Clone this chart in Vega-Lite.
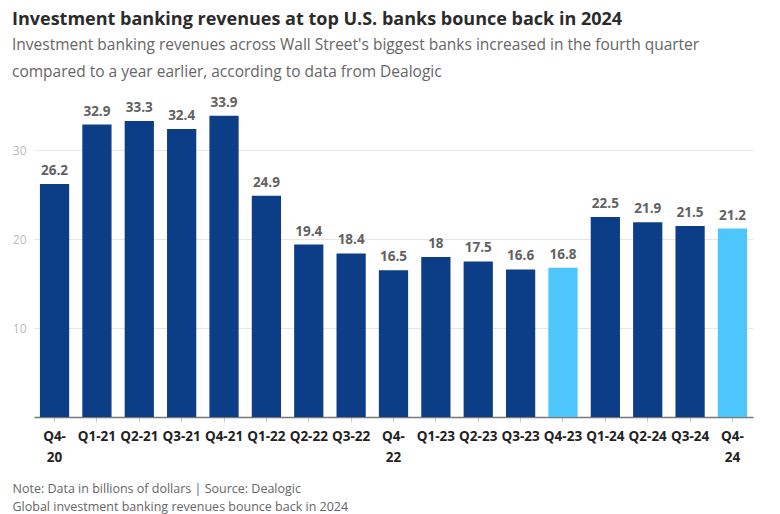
{
  "$schema": "https://vega.github.io/schema/vega-lite/v6.json",
  "autosize": {"type": "none"},
  "width": 719,
  "height": 320,
  "padding": {"left": 34, "top": 97, "right": 27, "bottom": 97},
  "background": "white",
  "title": {
    "text": "Investment banking revenues at top U.S. banks bounce back in 2024",
    "subtitle": ["Investment banking revenues across Wall Street's biggest banks increased in the fourth quarter", "compared to a year earlier, according to data from Dealogic"],
    "anchor": "start",
    "frame": "group",
    "dx": -22,
    "offset": 15,
    "font": "Open Sans",
    "fontSize": 18,
    "fontWeight": "bold",
    "color": "#2b2b2b",
    "subtitleFont": "Open Sans",
    "subtitleFontSize": 15.5,
    "subtitleColor": "#666666",
    "subtitleLineHeight": 27,
    "subtitlePadding": 9
  },
  "data": {
    "values": [
      {"quarter": "Q4-20", "revenue": 26.2},
      {"quarter": "Q1-21", "revenue": 32.9},
      {"quarter": "Q2-21", "revenue": 33.3},
      {"quarter": "Q3-21", "revenue": 32.4},
      {"quarter": "Q4-21", "revenue": 33.9},
      {"quarter": "Q1-22", "revenue": 24.9},
      {"quarter": "Q2-22", "revenue": 19.4},
      {"quarter": "Q3-22", "revenue": 18.4},
      {"quarter": "Q4-22", "revenue": 16.5},
      {"quarter": "Q1-23", "revenue": 18},
      {"quarter": "Q2-23", "revenue": 17.5},
      {"quarter": "Q3-23", "revenue": 16.6},
      {"quarter": "Q4-23", "revenue": 16.8},
      {"quarter": "Q1-24", "revenue": 22.5},
      {"quarter": "Q2-24", "revenue": 21.9},
      {"quarter": "Q3-24", "revenue": 21.5},
      {"quarter": "Q4-24", "revenue": 21.2}
    ]
  },
  "encoding": {
    "x": {
      "field": "quarter",
      "type": "nominal",
      "sort": null,
      "scale": {"paddingInner": 0.31, "paddingOuter": 0.14},
      "axis": {
        "title": ["Note: Data in billions of dollars | Source: Dealogic", "Global investment banking revenues bounce back in 2024"],
        "titleFont": "Open Sans",
        "titleFontSize": 12.5,
        "titleFontWeight": "normal",
        "titleColor": "#666666",
        "titleAnchor": "start",
        "titleAlign": "left",
        "titleBaseline": "middle",
        "titleLineHeight": 18,
        "titleX": -22,
        "titleY": 71,
        "labelAngle": 0,
        "labelFont": "Open Sans",
        "labelFontSize": 13.5,
        "labelFontWeight": "bold",
        "labelColor": "#222222",
        "labelPadding": 7,
        "labelLineHeight": 21,
        "labelExpr": "indexof(['Q4-20','Q4-22','Q4-24'], datum.value) >= 0 ? [substring(datum.value, 0, 3), substring(datum.value, 3)] : datum.value",
        "domainColor": "#777777",
        "domainWidth": 1.5,
        "tickColor": "#cccccc",
        "tickSize": 5
      }
    },
    "y": {
      "field": "revenue",
      "type": "quantitative",
      "scale": {"domain": [0, 36], "nice": false},
      "axis": {
        "title": null,
        "values": [10, 20, 30],
        "domain": false,
        "ticks": false,
        "labelPadding": 8,
        "labelFont": "Open Sans",
        "labelFontSize": 12,
        "labelColor": "#bbbbbb",
        "gridColor": "#e6e6e6",
        "gridWidth": 1
      }
    }
  },
  "layer": [
    {
      "mark": {"type": "bar"},
      "encoding": {
        "color": {
          "condition": {"test": "indexof(['Q4-23','Q4-24'], datum.quarter) >= 0", "value": "#4cc6fc"},
          "value": "#0b3e86"
        }
      }
    },
    {
      "mark": {
        "type": "text",
        "baseline": "bottom",
        "dy": -6,
        "font": "Open Sans",
        "fontSize": 13.5,
        "fontWeight": "bold",
        "color": "#626262"
      },
      "encoding": {"text": {"field": "revenue", "type": "quantitative"}}
    }
  ],
  "config": {"view": {"stroke": null}}
}
